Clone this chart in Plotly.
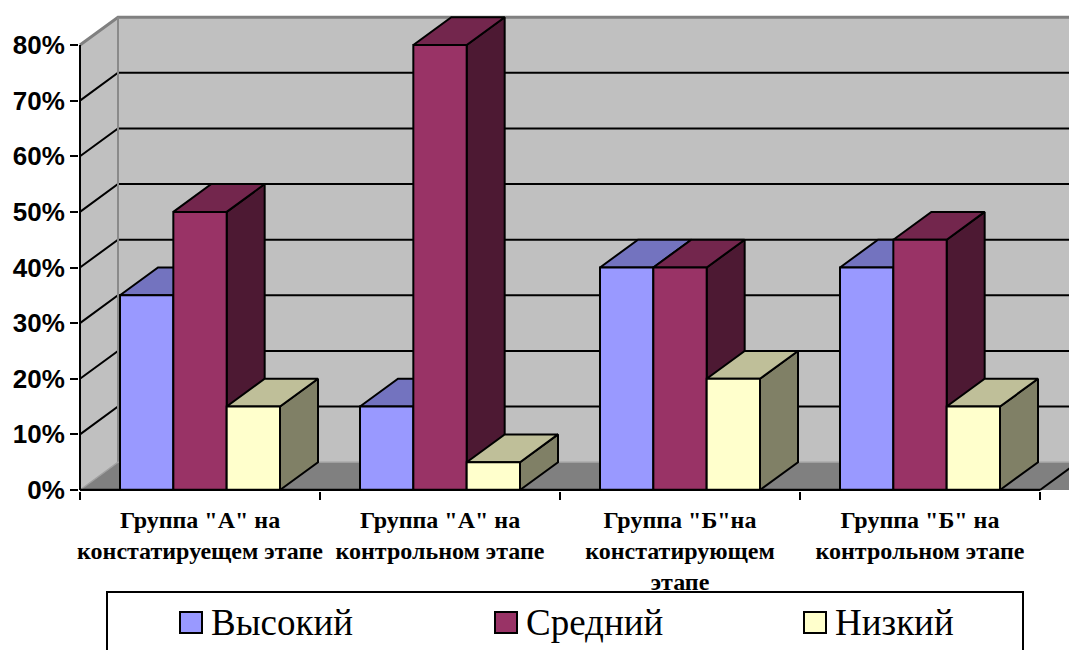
import plotly.graph_objects as go

categories = [
    'Группа "А" на<br>констатируещем этапе',
    'Группа "А" на<br>контрольном этапе',
    'Группа "Б"на<br>констатирующем<br>этапе',
    'Группа "Б" на<br>контрольном этапе',
]
series_names = ["Высокий", "Средний", "Низкий"]
vysokiy = [35, 15, 40, 40]
sredniy = [50, 80, 40, 45]
nizkiy = [15, 5, 20, 15]
y_ticks = [0, 10, 20, 30, 40, 50, 60, 70, 80]
y_ticktext = [f"{v}%" for v in y_ticks]

series_values = [vysokiy, sredniy, nizkiy]
# front, top, side colours per series
face_colors = [
    ("#9999FF", "#7373BF", "#4D4D80"),
    ("#993366", "#73264D", "#4D1933"),
    ("#FFFFCC", "#BFBF99", "#808066"),
]

SERIF = "Liberation Serif"
SANS = "Liberation Sans"

# figure geometry (pixels)
W, H = 1069, 650
L, R = 79, W            # plot area left/right
T, B = 0, 491           # plot area top/bottom
PX_CAT = 240.0          # px per category
PX_PCT = 5.5625         # px per percent
DX = 38 / PX_CAT        # depth offset in category units
DY = 5.0                # depth offset in percent units
YMAX = 80

x_lo = -0.5 - (80 - L) / PX_CAT
x_hi = x_lo + (R - L) / PX_CAT
y_lo = -(B - 490) / PX_PCT
y_hi = y_lo + (B - T) / PX_PCT

n = len(categories)
xa, xb = -0.5, n - 0.5

fig = go.Figure()


def poly(xs, ys, fill, line_color="black", width=2):
    fig.add_trace(go.Scatter(
        x=xs + [xs[0]], y=ys + [ys[0]], mode="lines", fill="toself",
        fillcolor=fill, line=dict(color=line_color, width=width),
        hoverinfo="skip", showlegend=False))


def seg(xs, ys, color="black", width=2):
    fig.add_trace(go.Scatter(
        x=xs, y=ys, mode="lines", line=dict(color=color, width=width),
        hoverinfo="skip", showlegend=False))


# walls and floor
poly([xa, xa, xa + DX, xa + DX], [0, YMAX, YMAX + DY, DY], "#C0C0C0", "rgba(0,0,0,0)", 0)
poly([xa + DX, xb + DX + 1, xb + DX + 1, xa + DX], [DY, DY, YMAX + DY, YMAX + DY], "#C0C0C0", "rgba(0,0,0,0)", 0)
poly([xa, xa + DX, xb + DX + 1, xb + 1, xb], [0, DY, DY, 0, 0], "#808080", "rgba(0,0,0,0)", 0)

# gridlines
for v in y_ticks[1:-1]:
    seg([xa, xa + DX, xb + DX + 1], [v, v + DY, v + DY])

# wall edges
seg([xa, xa + DX, xb + DX + 1], [YMAX, YMAX + DY, YMAX + DY], "#808080", 3)
seg([xa + DX, xa + DX], [DY, YMAX + DY], "#8A8A8A", 2)
seg([xa, xa + DX, xb + DX + 1], [0, DY, DY], "#A0A0A0", 1.5)
seg([xb, xb + DX], [0, DY], "black", 2)

# bars
bw = (2 / 3) / 3
for i in range(n):
    for j, vals in enumerate(series_values):
        v = vals[i]
        fc, tc, sc = face_colors[j]
        x0 = i - 1 / 3 + j * bw
        x1 = x0 + bw
        poly([x1, x1, x1 + DX, x1 + DX], [0, v, v + DY, DY], sc)
        poly([x0, x1, x1 + DX, x0 + DX], [v, v, v + DY, v + DY], tc)
        poly([x0, x1, x1, x0], [0, 0, v, v], fc)

# front axes
seg([xa, xa], [0, YMAX], "black", 2)
seg([xa, xb], [0, 0], "black", 2.5)


def px_x(p):
    return (p - L) / (R - L)


def px_y(p):
    return (B - p) / (B - T)


# legend (box, swatches, labels)
shapes = [dict(type="rect", xref="paper", yref="paper",
               x0=px_x(107), x1=px_x(1023), y0=px_y(670), y1=px_y(592),
               line=dict(color="black", width=2), fillcolor="white", layer="above")]
annotations = []
sw_x = [180, 495, 804]
for k, name in enumerate(series_names):
    shapes.append(dict(type="rect", xref="paper", yref="paper",
                       x0=px_x(sw_x[k]), x1=px_x(sw_x[k] + 22),
                       y0=px_y(633), y1=px_y(612),
                       line=dict(color="black", width=2),
                       fillcolor=face_colors[k][0], layer="above"))
    annotations.append(dict(text=name, xref="paper", yref="paper",
                            x=px_x(sw_x[k] + 29), y=px_y(622),
                            xanchor="left", yanchor="middle", showarrow=False,
                            font=dict(family=SERIF, size=37, color="black")))

fig.update_layout(
    width=W, height=H,
    margin=dict(l=L, r=W - R, t=T, b=H - B, autoexpand=False),
    paper_bgcolor="white", plot_bgcolor="white",
    showlegend=False,
    shapes=shapes, annotations=annotations,
    xaxis=dict(range=[x_lo, x_hi], showgrid=False, zeroline=False, showline=False,
               tickmode="array", tickvals=list(range(n)), ticktext=categories,
               ticks="", ticklabelstandoff=12,
               tickfont=dict(family=SERIF, size=24, color="black", weight="bold"),
               minor=dict(tickmode="array", tickvals=[k - 0.5 for k in range(n + 1)],
                          ticks="outside", ticklen=8, tickwidth=2, tickcolor="black",
                          showgrid=False)),
    yaxis=dict(range=[y_lo, y_hi], showgrid=False, zeroline=False, showline=False,
               tickmode="array", tickvals=y_ticks, ticktext=y_ticktext,
               ticks="outside", ticklen=8, tickwidth=2, tickcolor="black",
               tickfont=dict(family=SANS, size=26, color="black", weight="bold")),
)

fig.write_html("out.html")
